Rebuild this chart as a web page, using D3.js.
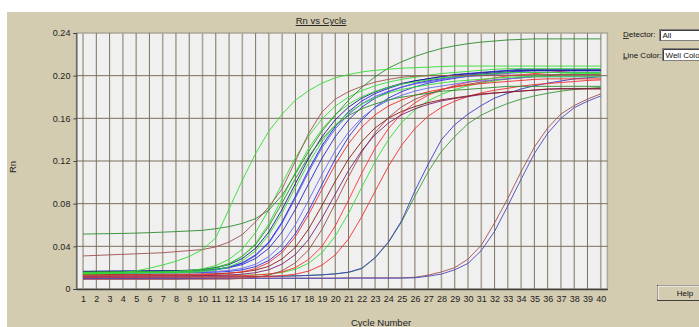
<!DOCTYPE html>
<html>
<head>
<meta charset="utf-8">
<script src="https://cdnjs.cloudflare.com/ajax/libs/d3/7.8.5/d3.min.js"></script>
<style>
  body { margin: 0; background: #fff; }
  svg { display: block; font-family: 'Liberation Sans', Arial, sans-serif; }
</style>
</head>
<body>
<svg width="699" height="327"></svg>
<script>
// cycle numbers (x categories)
const cycles = [1, 2, 3, 4, 5, 6, 7, 8, 9, 10, 11, 12, 13, 14, 15, 16, 17, 18, 19, 20,
  21, 22, 23, 24, 25, 26, 27, 28, 29, 30, 31, 32, 33, 34, 35, 36, 37, 38, 39, 40]
const yTicks = [0, 0.04, 0.08, 0.12, 0.16, 0.20, 0.24]

// Rn x 1000 for each well, cycle 1..40
const rnA = [14, 14.2, 14.6, 15.4, 17, 19.5, 22.5, 26, 30.5, 37, 48, 75, 102, 127, 148, 164, 177, 186, 193, 198,
  201, 203.5, 205, 206, 207, 207.5, 208, 208.5, 209, 209, 209, 209, 209, 209, 209, 209, 209, 209, 209, 209]
const rnE1 = [31, 31.5, 32, 32.5, 33, 33.5, 34, 35, 36, 37, 39.5, 44, 51, 63, 77, 94, 120, 146, 166, 178,
  185, 190, 194, 196.5, 198.5, 199.5, 200, 200, 200, 200, 200, 200.5, 200.5, 200.5, 201, 201, 201, 201, 201, 201]
const rnB = [51.5, 51.7, 51.9, 52.1, 52.4, 52.8, 53.3, 53.8, 54.4, 55, 56.5, 58.5, 61.5, 66, 74, 88, 108, 129, 148, 163,
  177, 189, 199, 207, 213, 218, 222, 225.5, 228, 230, 231.5, 232.5, 233.5, 234, 234.5, 234.5, 234.5, 234.5, 234.5, 234.5]
const rnG1 = [15.5, 15.6, 15.7, 15.8, 15.9, 16, 16.1, 16.4, 17.3, 18.9, 22, 27.8, 37.5, 53, 74.5, 99, 123, 143.5, 159.5, 171.5,
  180, 186, 190.5, 194, 196.5, 198.5, 200.5, 202, 203, 204, 205, 206, 206.5, 206.5, 206.5, 206.5, 206.5, 206.5, 206.5, 206.5]
const rnG2 = [15, 15.1, 15.2, 15.3, 15.4, 15.5, 15.6, 15.7, 16.3, 17.4, 19.4, 23.4, 30.8, 42.6, 61.3, 84.9, 109.5, 132.1, 149.8, 163.6,
  173.4, 180.3, 185.2, 189.2, 192.1, 194.1, 196.1, 198, 199, 200, 201, 202, 203, 203, 203, 203, 203, 203, 203, 203]
const rnG5 = [14.5, 14.6, 14.7, 14.8, 14.9, 15, 15.1, 15.2, 15.5, 16.4, 17.9, 20.8, 26.4, 35.8, 50.8, 71.5, 95.2, 118.4, 138.2, 153.6,
  165.2, 173.4, 179.2, 183.6, 187, 189.4, 191.3, 193.2, 194.7, 195.7, 196.6, 197.6, 198.6, 199, 199, 199, 199, 199, 199, 199]
const rnG3 = [16, 16.1, 16.2, 16.3, 16.4, 16.5, 16.6, 16.7, 17.3, 18.3, 20.2, 23.8, 30.7, 41.6, 58.9, 80.7, 103.5, 124.4, 140.8, 153.5,
  162.6, 169, 173.5, 177.2, 179.9, 181.7, 183.5, 185.4, 186.3, 187.2, 188.1, 189, 190, 190, 190, 190, 190, 190, 190, 190]
const rnN1 = [16.5, 16.6, 16.7, 16.8, 16.9, 17, 17.1, 17.2, 17.6, 18.4, 20, 22.9, 28.6, 38.2, 53.5, 74.7, 98.9, 122.6, 142.8, 158.6,
  170.5, 178.9, 184.8, 189.2, 192.7, 195.2, 197.1, 199.1, 200.6, 201.6, 202.6, 203.5, 204.5, 205, 205, 205, 205, 205, 205, 205]
const rnB1 = [16, 16.1, 16.2, 16.3, 16.4, 16.5, 16.6, 16.7, 16.8, 17.4, 18.5, 20.5, 24.5, 32, 44, 63, 87, 112, 134.5, 152.3,
  166.3, 176.2, 183.2, 188.1, 192.1, 195.1, 197.1, 199.1, 201.1, 202.1, 203.1, 204.1, 205, 206, 206, 206, 206, 206, 206, 206]
const rnB2 = [15.5, 15.6, 15.7, 15.8, 15.9, 16, 16.1, 16.2, 16.3, 16.9, 18, 19.9, 23.9, 31.2, 43, 61.7, 85.2, 109.8, 132.4, 150.1,
  163.8, 173.6, 180.5, 185.4, 189.3, 192.3, 194.2, 196.2, 198.2, 199.2, 200.1, 201.1, 202.1, 203, 203, 203, 203, 203, 203, 203]
const rnB5 = [16.5, 16.6, 16.7, 16.8, 16.9, 17, 17.1, 17.2, 17.3, 17.6, 18.5, 20, 22.9, 28.6, 38.2, 53.5, 74.7, 98.9, 122.6, 142.8,
  158.6, 170.5, 178.9, 184.8, 189.2, 192.7, 195.2, 197.1, 199.1, 200.6, 201.6, 202.6, 203.5, 204.5, 205, 205, 205, 205, 205, 205]
const rnB3 = [15, 15.1, 15.2, 15.3, 15.4, 15.5, 15.6, 15.7, 15.8, 15.9, 16.5, 17.4, 19.4, 23.2, 30.4, 42, 60.3, 83.4, 107.5, 129.6,
  147, 160.5, 170.1, 176.8, 181.6, 185.5, 188.4, 190.3, 192.2, 194.2, 195.1, 196.1, 197, 198, 199, 199, 199, 199, 199, 199]
const rnB4 = [14.5, 14.6, 14.7, 14.8, 14.9, 15, 15.1, 15.2, 15.3, 15.4, 15.8, 16.5, 18, 21, 26.8, 36.5, 52, 73.5, 98, 122,
  142.5, 158.5, 170.5, 179, 185, 189.5, 193, 195.5, 197.5, 199.5, 201, 202, 203, 204, 204.5, 204.5, 204.5, 204.5, 204.5, 204.5]
const rnR1 = [13, 13, 13, 13, 13.2, 13.2, 13.2, 13.2, 13.4, 13.4, 13.7, 14.6, 16.1, 19.1, 24.8, 34.2, 49.1, 69.9, 93.4, 116.6,
  136.3, 151.7, 163.3, 171.5, 177.2, 181.6, 184.9, 187.3, 189.3, 191.2, 192.6, 193.6, 194.6, 195.5, 196.5, 197, 197, 197, 197, 197]
const rnDR2 = [13.5, 13.5, 13.5, 13.7, 13.7, 13.7, 13.9, 13.9, 13.9, 14.1, 14.3, 15, 15.9, 17.7, 21.3, 28.2, 39.1, 56.4, 78.2, 101,
  121.9, 138.3, 151, 160.1, 166.5, 171, 174.7, 177.4, 179.2, 181, 182.9, 183.8, 184.7, 185.6, 186.5, 187.5, 187.5, 187.5, 187.5, 187.5]
const rnP1 = [12, 12, 12, 12.2, 12.2, 12.2, 12.4, 12.4, 12.4, 12.6, 12.8, 13.2, 13.9, 15.3, 18.1, 23.4, 32.3, 46.6, 66.4, 88.9,
  111, 129.8, 144.6, 155.6, 163.4, 168.9, 173.1, 176.3, 178.6, 180.4, 182.3, 183.7, 184.6, 185.5, 186.4, 187.3, 188, 188, 188, 188]
const rnDR1 = [9, 9, 9, 9, 9, 9, 9, 9, 9.2, 9.2, 9.2, 9.3, 9.9, 11, 13, 17.1, 24.6, 36.7, 55.9, 80.1,
  105.3, 128.4, 146.6, 160.7, 170.8, 177.8, 182.9, 186.9, 189.9, 191.9, 194, 196, 197, 198, 199, 200, 201, 201, 201, 201]
const rnR2 = [12, 12, 12, 12, 12, 12.2, 12.2, 12.2, 12.2, 12.2, 12.4, 12.4, 12.5, 13, 14, 16, 20.1, 27.7, 39.9, 59.1,
  83.4, 108.7, 132, 150.3, 164.5, 174.6, 181.7, 186.7, 190.8, 193.8, 195.9, 197.9, 199.9, 200.9, 201.9, 202.9, 204, 205, 205, 205]
const rnG4 = [12.5, 12.5, 12.5, 12.5, 12.5, 12.7, 12.7, 12.7, 12.7, 12.7, 12.9, 12.9, 13, 13.3, 14, 15.5, 18.5, 24.2, 34, 49.5,
  71, 95.5, 119.5, 140, 156, 168, 176.5, 182.5, 187, 190.5, 193, 195, 197, 198.5, 199.5, 200.5, 201.5, 202, 202, 202]
const rnR3 = [11, 11, 11, 11, 11, 11, 11.2, 11.2, 11.2, 11.2, 11.2, 11.2, 11.4, 11.5, 11.7, 12.5, 13.9, 16.8, 22.4, 31.9,
  46.9, 67.8, 91.6, 114.9, 134.8, 150.4, 162, 170.3, 176.1, 180.5, 183.9, 186.3, 188.2, 190.2, 191.6, 192.6, 193.6, 194.5, 195.5, 196]
const rnMB = [10.5, 10.5, 10.6, 10.7, 10.8, 10.9, 11, 11, 11.1, 11.2, 11.3, 11.4, 11.5, 11.6, 11.8, 12, 12.3, 12.7, 13.3, 14.2,
  15.8, 19.5, 29.5, 44, 64, 92, 117, 140, 154, 164, 172, 179, 183.5, 187.5, 190.5, 193, 195, 197, 198, 199]
const rnMG = [11, 11, 11.1, 11.1, 11.2, 11.2, 11.3, 11.3, 11.4, 11.4, 11.5, 11.5, 11.6, 11.7, 11.9, 12.1, 12.4, 12.8, 13.3, 14.2,
  15.5, 19, 29, 43.5, 63, 87, 110, 129, 143, 155, 163, 169, 174, 178, 181, 183.5, 185.5, 187, 188, 189]
const rnLBr = [10, 10, 10, 10, 10, 10, 10, 10, 10, 10, 10.2, 10.2, 10.2, 10.2, 10.2, 10.2, 10.2, 10.2, 10.2, 10.2,
  10.4, 10.4, 10.4, 10.4, 10.5, 11, 13, 16, 20, 28, 41, 62, 85, 110, 133, 151, 164, 172, 178, 183]
const rnLBl = [9.8, 9.8, 9.8, 9.8, 9.8, 9.8, 9.8, 9.8, 9.8, 9.8, 10, 10, 10, 10, 10, 10, 10, 10, 10, 10,
  10.2, 10.2, 10.2, 10.2, 10.2, 10.5, 12, 14, 18, 24, 36, 54, 78, 103, 127, 146, 160, 170, 176, 181]

const wells = [
  { color: '#a05050', rn: rnLBr },
  { color: '#4848c0', rn: rnLBl },
  { color: '#3a9a3a', rn: rnMG },
  { color: '#3c3cc8', rn: rnMB },
  { color: '#ee3030', rn: rnR3 },
  { color: '#33dd33', rn: rnG4 },
  { color: '#ff3030', rn: rnR2 },
  { color: '#a04848', rn: rnDR1 },
  { color: '#7a2070', rn: rnP1 },
  { color: '#8b1a1a', rn: rnDR2 },
  { color: '#ee2a2a', rn: rnR1 },
  { color: '#3030e0', rn: rnB4 },
  { color: '#6a6af0', rn: rnB3 },
  { color: '#2828c8', rn: rnB5 },
  { color: '#5a5af0', rn: rnB2 },
  { color: '#2020e0', rn: rnB1 },
  { color: '#1a1a8c', rn: rnN1 },
  { color: '#2e8b2e', rn: rnG3 },
  { color: '#33dd33', rn: rnG5 },
  { color: '#33dd33', rn: rnG2 },
  { color: '#33dd33', rn: rnG1 },
  { color: '#2e8b2e', rn: rnB },
  { color: '#a05050', rn: rnE1 },
  { color: '#33dd33', rn: rnA }
]

const svg = d3.select('svg')
const tan = '#d3ccb0'
const plot = { left: 76.4, right: 607.4, top: 33, bottom: 289 }

const x = d3.scaleLinear().domain([0.5, 40.5]).range([plot.left, plot.right])
const y = d3.scaleLinear().domain([0, 0.24]).range([plot.bottom, plot.top])

// window background
svg.append('rect').attr('x', 7).attr('y', 12).attr('width', 692).attr('height', 315).attr('fill', tan)

svg.append('rect')
  .attr('x', plot.left).attr('y', plot.top)
  .attr('width', plot.right - plot.left).attr('height', plot.bottom - plot.top)
  .attr('fill', '#f0f0f0')
  .attr('stroke', '#aca796')
  .attr('stroke-width', 1.5)

// grid
svg.append('g')
  .selectAll('line')
  .data(cycles)
  .join('line')
  .attr('x1', d => x(d)).attr('x2', d => x(d))
  .attr('y1', plot.top).attr('y2', plot.bottom)
  .attr('stroke', d => d % 3 === 1 ? '#aaa596' : '#7d735d')
  .attr('stroke-width', d => d % 3 === 1 ? 1.6 : 1)

svg.append('g')
  .selectAll('line')
  .data(yTicks.slice(1, -1))
  .join('line')
  .attr('x1', plot.left).attr('x2', plot.right)
  .attr('y1', d => y(d)).attr('y2', d => y(d))
  .attr('stroke', '#7a705a')
  .attr('stroke-width', 1)

// curves
svg.append('defs').append('clipPath').attr('id', 'clip')
  .append('rect')
  .attr('x', plot.left).attr('y', plot.top)
  .attr('width', plot.right - plot.left).attr('height', plot.bottom - plot.top)

const line = d3.line()
  .x((d, i) => x(cycles[i]))
  .y(d => y(d / 1000))

svg.append('g')
  .attr('clip-path', 'url(#clip)')
  .selectAll('path')
  .data(wells)
  .join('path')
  .attr('fill', 'none')
  .attr('stroke', d => d.color)
  .attr('stroke-width', 0.9)
  .attr('d', d => line(d.rn))

// axes
const yAxis = g => g
  .attr('transform', `translate(${plot.left},0)`)
  .call(d3.axisLeft(y).tickValues(yTicks).tickSize(3).tickPadding(3)
    .tickFormat(d => d === 0 ? '0' : d3.format('.2f')(d)))
  .call(g => g.selectAll('.tick text').attr('font-size', 9).attr('fill', '#222'))
  .call(g => g.selectAll('line, path').attr('stroke', '#404040'))

const xAxis = g => g
  .attr('transform', `translate(0,${plot.bottom})`)
  .call(d3.axisBottom(x).tickValues(cycles).tickSize(0).tickPadding(7))
  .call(g => g.selectAll('.tick text').attr('font-size', 9).attr('fill', '#222'))
  .call(g => g.select('.domain').attr('stroke', '#404040').attr('stroke-width', 1.5))

svg.append('g').call(yAxis)
svg.append('g').call(xAxis)

// titles
svg.append('text')
  .attr('x', 321).attr('y', 24)
  .attr('text-anchor', 'middle')
  .attr('font-size', 9.5)
  .attr('text-decoration', 'underline')
  .attr('fill', '#222')
  .text('Rn vs Cycle')

svg.append('text')
  .attr('transform', 'translate(15.5,167) rotate(-90)')
  .attr('text-anchor', 'middle')
  .attr('font-size', 9.5)
  .attr('fill', '#222')
  .text('Rn')

svg.append('text')
  .attr('x', 381).attr('y', 326)
  .attr('text-anchor', 'middle')
  .attr('font-size', 9.5)
  .attr('fill', '#222')
  .text('Cycle Number')

// right-hand controls
const label = (yPos, first, rest) => {
  const t = svg.append('text').attr('x', 623).attr('y', yPos).attr('font-size', 8).attr('fill', '#111')
  t.append('tspan').attr('text-decoration', 'underline').text(first)
  t.append('tspan').text(rest)
}
label(37, 'D', 'etector:')
label(57.5, 'L', 'ine Color:')

const field = (fx, fy, fh, txt) => {
  svg.append('rect').attr('x', fx).attr('y', fy).attr('width', 60).attr('height', fh)
    .attr('fill', '#fff').attr('stroke', '#808080').attr('stroke-width', 1)
  svg.append('line').attr('x1', fx + 1).attr('x2', fx + 60).attr('y1', fy + 1).attr('y2', fy + 1)
    .attr('stroke', '#404040')
  svg.append('line').attr('x1', fx + 1).attr('x2', fx + 1).attr('y1', fy + 1).attr('y2', fy + fh)
    .attr('stroke', '#404040')
  svg.append('text').attr('x', fx + 3).attr('y', fy + fh - 2.5).attr('font-size', 8).attr('fill', '#111').text(txt)
}
field(659.5, 29.5, 11, 'All')
field(662.5, 48.5, 12, 'Well Color')

// Help button
svg.append('rect').attr('x', 657.5).attr('y', 285.5).attr('width', 50).attr('height', 15)
  .attr('fill', tan).attr('stroke', '#404040')
svg.append('path').attr('d', 'M658,299.5 V286 H700')
  .attr('fill', 'none').attr('stroke', '#fff')
svg.append('text').attr('x', 685).attr('y', 296).attr('text-anchor', 'middle')
  .attr('font-size', 8).attr('fill', '#111').text('Help')
</script>
</body>
</html>
